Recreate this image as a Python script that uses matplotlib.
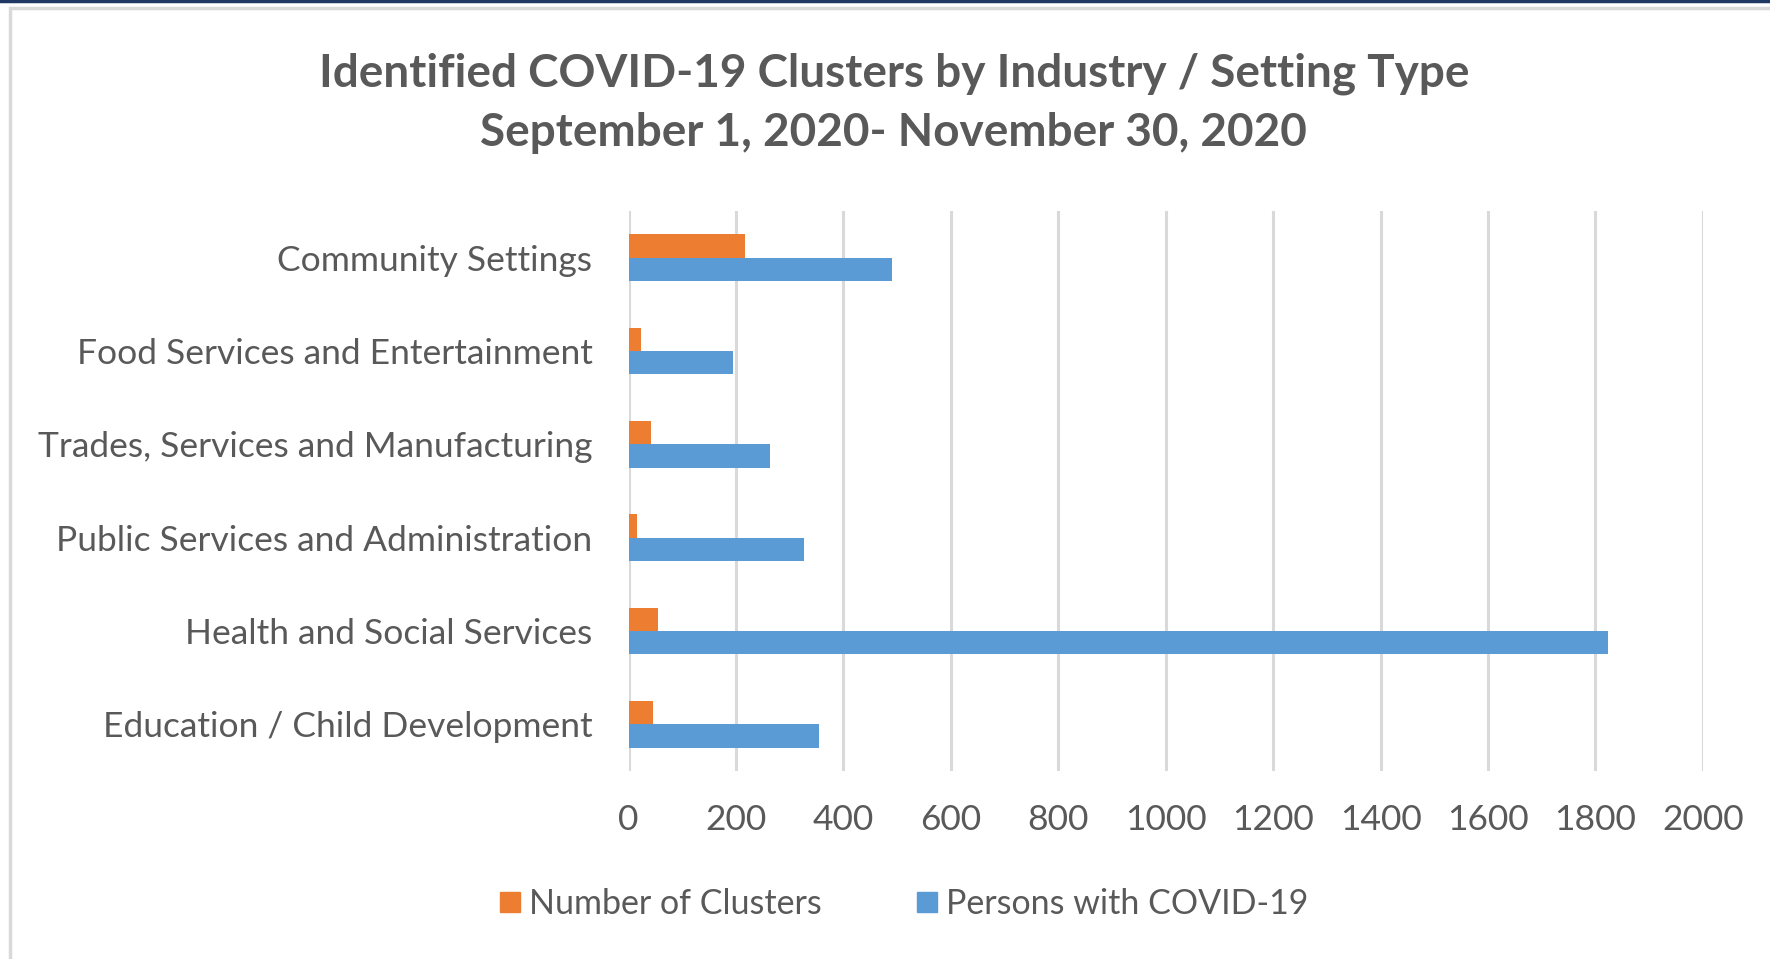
import numpy as np
import matplotlib
matplotlib.use('Agg')
import matplotlib.pyplot as plt
import matplotlib.patches as patches
from matplotlib.lines import Line2D

plt.rcParams['font.family'] = ['Lato', 'DejaVu Sans']

# Data
categories = ['Community Settings', 'Food Services and Entertainment',
              'Trades, Services and Manufacturing', 'Public Services and Administration',
              'Health and Social Services', 'Education / Child Development']
clusters = [216, 23, 42, 15, 54, 45]
persons = [491, 195, 263, 327, 1823, 354]
xticks = np.arange(0, 2001, 200)

orange = '#ED7D31'
blue = '#5B9BD5'
grey_txt = '#595959'

fig = plt.figure(figsize=(17.7, 9.59), dpi=100)
ax = fig.add_axes([0.3551, 0.196, 0.607, 0.584])

y = np.arange(len(categories))
h = 0.25
ax.barh(y - h / 2, clusters, height=h, color=orange, label='Number of Clusters', zorder=3)
ax.barh(y + h / 2, persons, height=h, color=blue, label='Persons with COVID-19', zorder=3)

ax.set_ylim(len(categories) - 0.5, -0.5)
ax.set_xlim(0, 2000)
ax.set_xticks(xticks)
ax.set_yticks(y)
ax.set_yticklabels(categories)
ax.grid(axis='x', color='#D9D9D9', linewidth=2.2, zorder=0)
for s in ax.spines.values():
  s.set_visible(False)
ax.tick_params(axis='both', length=0, labelsize=25.5, labelcolor=grey_txt)
ax.tick_params(axis='y', pad=26)
ax.tick_params(axis='x', pad=24)

fig.text(0.505, 0.923, 'Identified COVID-19 Clusters by Industry / Setting Type',
         ha='center', va='center', fontsize=33, fontweight='bold', color=grey_txt)
fig.text(0.505, 0.861, 'September 1, 2020- November 30, 2020',
         ha='center', va='center', fontsize=33, fontweight='bold', color=grey_txt)

handles = [Line2D([], [], marker='s', linestyle='', markersize=15, color=orange),
           Line2D([], [], marker='s', linestyle='', markersize=15, color=blue)]
fig.legend(handles, ['Number of Clusters', 'Persons with COVID-19'],
           loc='center', bbox_to_anchor=(0.509, 0.057), ncol=2, frameon=False,
           fontsize=24.5, labelcolor=grey_txt, handletextpad=0.05, columnspacing=2.6,
           handlelength=1.0)

# outer frame like the screenshot
fig.patches.append(patches.Rectangle((10 / 1770, -0.01), 1.0, 1 - 8 / 959 + 0.01,
                                     transform=fig.transFigure, fill=False,
                                     edgecolor='#D9D9D9', linewidth=2.5))
fig.lines.append(Line2D([0, 1], [1 - 1 / 959, 1 - 1 / 959], transform=fig.transFigure,
                        color='#1F3864', linewidth=2.5))

fig.savefig('out.png', dpi=100)
